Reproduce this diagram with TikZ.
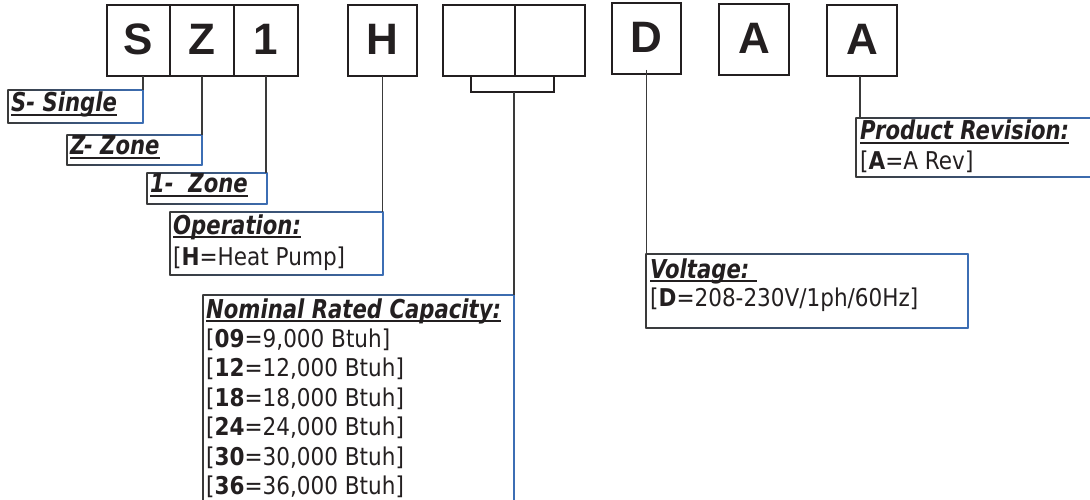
\documentclass[tikz,border=0pt]{standalone}
\usepackage{fontspec}
\setmainfont{DejaVu Sans}[FakeStretch=0.88]
\newfontfamily\titlefont{DejaVu Sans}[FakeStretch=0.815]
\newfontfamily\codefont{Liberation Sans}
\usetikzlibrary{calc}
\definecolor{ink}{HTML}{231F20}
\definecolor{edgedark}{HTML}{3A3A3A}
\definecolor{edgeblue}{HTML}{3C6EB4}
\newcommand{\ulin}[1]{\setbox0=\hbox{#1}\leavevmode\rlap{\rule[-3.8pt]{\wd0}{2pt}}\box0}
\newcommand{\edgebox}[1]{%
 \shade[left color=edgedark, middle color=edgedark, right color=edgeblue] ($(#1.north west)+(-0.65,-0.65)$) rectangle ($(#1.north east)+(0.65,0.65)$);
 \shade[left color=edgedark, middle color=edgedark!80!white, right color=edgeblue] ($(#1.south west)+(-0.65,-0.65)$) rectangle ($(#1.south east)+(0.65,0.65)$);
 \fill[edgedark] ($(#1.north west)+(-0.65,0)$) rectangle ($(#1.south west)+(0.65,0)$);
 \fill[edgeblue] ($(#1.north east)+(-0.65,0)$) rectangle ($(#1.south east)+(0.65,0)$);}
\tikzset{
 codebox/.style={draw=ink, line width=2.5pt, minimum height=71pt, inner sep=0pt, outer sep=0pt,
   font=\codefont\bfseries\fontsize{44}{44}\selectfont, text=ink, text height=31.5pt, text depth=4pt},
 lblbox/.style={inner sep=0pt, outer sep=0pt, anchor=north west},
 lbltext/.style={inner sep=0pt, anchor=base west, text=ink, font=\fontsize{24.5}{29.6}\selectfont},
 lbltitle/.style={inner sep=0pt, anchor=base west, text=ink, font=\titlefont\fontsize{26}{29.6}\selectfont\bfseries\itshape},
 conn/.style={draw=edgedark, line width=1.3pt},
 bracketline/.style={draw=ink, line width=2pt},
}
\begin{document}
\begin{tikzpicture}[x=1pt,y=-1pt]
\useasboundingbox (0,0) rectangle (1090,500);
% code boxes
\node[codebox, minimum width=63pt] (S) at (138.5,40.5) {S};
\node[codebox, minimum width=64pt] (Z) at (202,40.5) {Z};
\node[codebox, minimum width=64pt] (one) at (266,40.5) {1};
\node[codebox, minimum width=69pt] (H) at (382.5,40.5) {H};
\node[codebox, minimum width=72pt] (E1) at (479,40.5) {};
\node[codebox, minimum width=70pt] (E2) at (550,40.5) {};
\node[codebox, minimum width=69pt] (D) at (646.5,38.5) {D};
\node[codebox, minimum width=70pt] (A1) at (754,39.5) {A};
\node[codebox, minimum width=70pt] (A2) at (862,40.5) {A};
% bracket
\coordinate (bl) at (471,76);
\coordinate (br) at (554,76);
\coordinate (brk) at (514,92);
\draw[bracketline] (bl) -- (bl |- brk) -- (br |- brk) -- (br);
% label boxes
\node[lblbox, minimum width=135pt, minimum height=33pt] (single) at (8,90) {};
\node[lblbox, minimum width=135pt, minimum height=30pt] (zone) at (67,135) {};
\node[lblbox, minimum width=120pt, minimum height=31pt] (onezone) at (147,173) {};
\node[lblbox, minimum width=213pt, minimum height=63pt] (op) at (170,212) {};
\node[lblbox, minimum width=311pt, minimum height=210pt] (nom) at (203,295) {};
\node[lblbox, minimum width=322pt, minimum height=74pt] (volt) at (646,254) {};
\node[lblbox, minimum width=240pt, minimum height=59pt] (prod) at (856,118) {};
\edgebox{single}
\edgebox{zone}
\edgebox{onezone}
\edgebox{op}
\edgebox{nom}
\edgebox{volt}
\edgebox{prod}
% connectors
\draw[conn] (S.south -| single.north east) -- (single.north east);
\draw[conn] (Z.south) -- (zone.north east);
\draw[conn] (one.south) -- (one.south |- onezone.north);
\draw[conn] (H.south) -- (H.south |- op.north);
\draw[conn] (brk) -- (nom.north east);
\draw[conn] ([yshift=4pt]D.south) -- (D.south |- volt.north);
\draw[conn] ([xshift=-2pt]A2.south) -- ([xshift=-2pt]A2.south |- prod.north);
% texts
\node[lbltitle] (tsingle) at (11,112) {\ulin{S- Single}};
\node[lbltitle] (tzone) at (70,155) {\ulin{Z- Zone}};
\node[lbltitle] (tone) at (150,193) {\ulin{1-\ \ Zone}};
\node[lbltitle] (top) at (173,234) {\ulin{Operation:}};
\node[lbltext] (bop) at (173,265) {[\textbf{H}=Heat Pump]};
\node[lbltitle] (tnom) at (206,318) {\ulin{Nominal Rated Capacity:}};
\foreach \c/\v [count=\i from 0] in {09/{9,000}, 12/{12,000}, 18/{18,000}, 24/{24,000}, 30/{30,000}, 36/{36,000}}
  \node[lbltext] (cap\i) at (206,347+29.5*\i) {[\textbf{\c}=\v\ Btuh]};
\node[lbltitle] (tvolt) at (650,278) {\ulin{Voltage:\ }};
\node[lbltext] (bvolt) at (650,306) {[\textbf{D}=208-230V/1ph/60Hz]};
\node[lbltitle] (tprod) at (860,140) {\ulin{Product Revision:}};
\node[lbltext] (bprod) at (860,169) {[\textbf{A}=A Rev]};
\end{tikzpicture}
\end{document}
